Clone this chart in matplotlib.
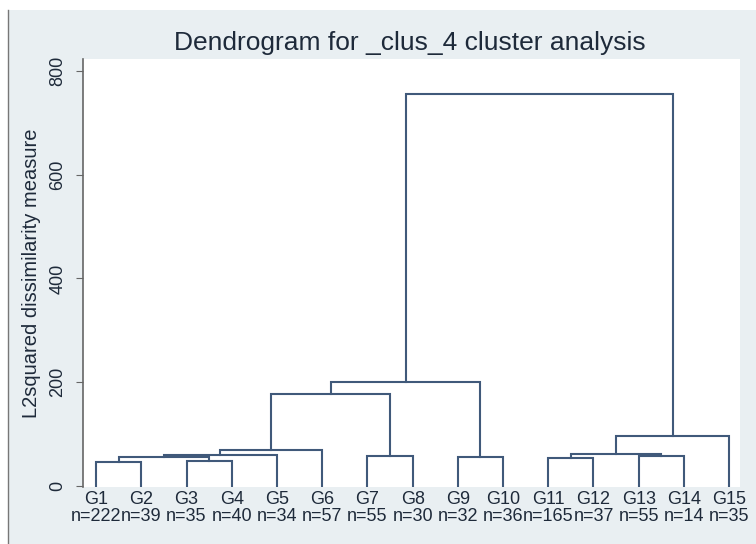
import matplotlib.pyplot as plt
from matplotlib.patches import Rectangle
from matplotlib.lines import Line2D

plt.rcParams['font.family'] = ['Liberation Sans', 'DejaVu Sans']

# leaves (left to right) and their sizes
groups = ["G1", "G2", "G3", "G4", "G5", "G6", "G7", "G8",
          "G9", "G10", "G11", "G12", "G13", "G14", "G15"]
sizes = [222, 39, 35, 40, 34, 57, 55, 30, 32, 36, 165, 37, 55, 14, 35]

# merges: (left node, right node, height); new nodes numbered from 15 up
merge_left = [0, 2, 15, 17, 18, 6, 19, 8, 21, 10, 12, 24, 26, 23]
merge_right = [1, 3, 16, 4, 5, 7, 20, 9, 22, 11, 13, 25, 14, 27]
merge_height = [47, 49, 55, 60, 69, 58, 177, 55, 201, 53, 58, 62, 97, 755]

line_col = "#40597a"
text_col = "#1e2a3a"
bg_col = "#e9eff2"

fig = plt.figure(figsize=(7.56, 5.44), dpi=100)
fig.patch.set_facecolor("white")
fig.patches.append(Rectangle((8 / 756, 0), 1, 1 - 10 / 544, transform=fig.transFigure,
                             facecolor=bg_col, edgecolor="none", zorder=-2))
fig.lines.append(Line2D([8 / 756, 8 / 756], [0, 1 - 10 / 544], transform=fig.transFigure,
                        color="#777777", lw=1.0))

ax = fig.add_axes([83 / 756, 1 - 487 / 544, (740 - 83) / 756, (487 - 59) / 544])
ax.set_facecolor("white")

# node positions: leaves at 1..15, merged nodes at midpoint of children
xpos = {i: i + 1 for i in range(len(groups))}
ypos = {i: 0 for i in range(len(groups))}
n = len(groups)
for k, (a, b, h) in enumerate(zip(merge_left, merge_right, merge_height)):
    ax.plot([xpos[a], xpos[a], xpos[b], xpos[b]], [ypos[a], h, h, ypos[b]],
            color=line_col, lw=1.5, solid_joinstyle="miter")
    xpos[n + k] = (xpos[a] + xpos[b]) / 2
    ypos[n + k] = h

ax.set_xlim(0.71, 15.24)
ax.set_ylim(-2, 823)
ax.set_xticks(range(1, n + 1))
ax.set_xticklabels([f"{g}\nn={s}" for g, s in zip(groups, sizes)],
                   fontsize=13, color=text_col, linespacing=1.0)
ax.tick_params(axis="x", length=0, pad=3)
ax.set_yticks([0, 200, 400, 600, 800])
ax.set_yticklabels(["0", "200", "400", "600", "800"], rotation=90, va="center",
                   fontsize=13, color=text_col)
ax.tick_params(axis="y", length=5, color="#666666", pad=7)

for s in ["top", "right", "bottom"]:
    ax.spines[s].set_visible(False)
ax.spines["left"].set_color("#666666")
ax.spines["left"].set_linewidth(1.2)

ax.set_ylabel("L2squared dissimilarity measure", fontsize=14.5, color=text_col)
ax.yaxis.set_label_coords((41 - 83) / (740 - 83), 0.5)
fig.text(410 / 756, 1 - 43 / 544, "Dendrogram for _clus_4 cluster analysis",
         ha="center", va="center", fontsize=19, color=text_col,
         family=["Liberation Sans Narrow", "Liberation Sans", "DejaVu Sans"])

fig.savefig("out.png", dpi=100, facecolor=fig.get_facecolor())
